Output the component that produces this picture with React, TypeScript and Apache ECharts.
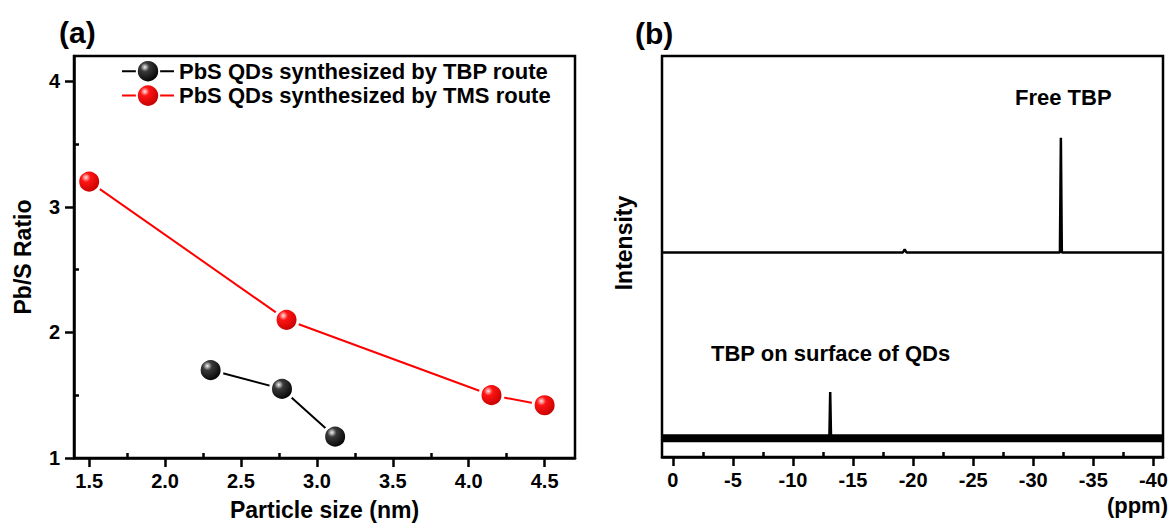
import React, { useEffect, useRef } from "react";
import * as echarts from "echarts";

// ---------- Panel (a) data ----------
const tbpRouteName = "PbS QDs synthesized by TBP route";
const tmsRouteName = "PbS QDs synthesized by TMS route";
const tbpSize = [2.3, 2.77, 3.12];
const tbpRatio = [1.7, 1.55, 1.17];
const tmsSize = [1.5, 2.8, 4.15, 4.5];
const tmsRatio = [3.2, 2.1, 1.5, 1.42];
const sizeTicks = [1.5, 2.0, 2.5, 3.0, 3.5, 4.0, 4.5];
const ratioTicks = [1, 2, 3, 4];

// ---------- Panel (b) data ----------
const ppmTicks = [0, -5, -10, -15, -20, -25, -30, -35, -40];
const freeTbpPpm = [0.9, -19.15, -19.3, -19.45, -32.22, -32.3, -32.38, -40.8];
const freeTbpIntensity = [51, 51, 51.8, 51, 51, 79.6, 51, 51];
const surfaceTbpPpm = [0.9, -13.03, -13.1, -13.17, -40.8];
const surfaceTbpIntensity = [4.7, 4.7, 16.2, 4.7, 4.7];
const noiseBandPpm = [0.9, -40.8];
const noiseBandIntensity = [4.7, 4.7];

const FONT = "Liberation Sans, Arial, Helvetica, sans-serif";
const AX = 2.5;

function sphere(hi: string, mid: string, dark: string) {
  return new echarts.graphic.RadialGradient(0.36, 0.32, 0.7, [
    { offset: 0, color: hi },
    { offset: 0.28, color: mid },
    { offset: 1, color: dark },
  ]);
}

function pairs(xs: number[], ys: number[]) {
  return xs.map((x, i) => [x, ys[i]]);
}

function buildOption() {
  const labelStyle = {
    color: "#000",
    fontFamily: FONT,
    fontWeight: "bold" as const,
    fontSize: 20,
  };
  const nameStyle = {
    color: "#000",
    fontFamily: FONT,
    fontWeight: "bold" as const,
    fontSize: 23,
  };
  const minorOverlay = (extra: any) => ({
    type: "value",
    axisLine: { show: false },
    axisLabel: { show: false },
    axisTick: { show: false, inside: true },
    minorTick: { show: true, splitNumber: 2, length: 5, lineStyle: { color: "#000", width: AX } },
    splitLine: { show: false },
    minorSplitLine: { show: false },
    ...extra,
  });

  return {
    animation: false,
    backgroundColor: "#fff",
    grid: [
      { left: 74, top: 56, width: 501, height: 402, show: true, borderColor: "#000", borderWidth: AX, backgroundColor: "transparent", containLabel: false, outerBoundsMode: "none" },
      { left: 662, top: 56, width: 501, height: 401, show: true, borderColor: "#000", borderWidth: AX, backgroundColor: "transparent", containLabel: false, outerBoundsMode: "none" },
    ],
    legend: {
      data: [tbpRouteName, tmsRouteName],
      orient: "vertical",
      left: 121,
      top: 59,
      padding: 0,
      itemWidth: 52,
      itemHeight: 28,
      itemGap: 0,
      textStyle: { color: "#000", fontFamily: FONT, fontWeight: "bold", fontSize: 22 },
    },
    xAxis: [
      {
        type: "value",
        gridIndex: 0,
        min: 1.4,
        max: 4.7,
        minInterval: 0.5,
        maxInterval: 0.5,
        position: "bottom",
        name: "Particle size (nm)",
        nameLocation: "middle",
        nameGap: 40,
        nameTextStyle: nameStyle,
        axisLine: { lineStyle: { color: "#000", width: AX } },
        axisTick: { show: true, inside: false, length: 9, lineStyle: { color: "#000", width: AX }, customValues: sizeTicks },
        axisLabel: { ...labelStyle, margin: 13, customValues: sizeTicks, formatter: (v: number) => Number(v).toFixed(1) },
        splitLine: { show: false },
      },
      minorOverlay({ gridIndex: 0, min: 1.4, max: 4.7, minInterval: 0.5, maxInterval: 0.5, position: "bottom" }),
      {
        type: "value",
        gridIndex: 1,
        inverse: true,
        min: -40.8,
        max: 0.9,
        minInterval: 5,
        maxInterval: 5,
        position: "bottom",
        axisLine: { lineStyle: { color: "#000", width: AX } },
        axisTick: { show: true, inside: false, length: 9, lineStyle: { color: "#000", width: AX }, customValues: ppmTicks },
        axisLabel: { ...labelStyle, margin: 13, customValues: ppmTicks, formatter: (v: number) => String(Math.round(v)) },
        splitLine: { show: false },
      },
      minorOverlay({ gridIndex: 1, inverse: true, min: -40.8, max: 0.9, minInterval: 5, maxInterval: 5, position: "bottom" }),
    ],
    yAxis: [
      {
        type: "value",
        gridIndex: 0,
        min: 1,
        max: 4.2,
        minInterval: 1,
        maxInterval: 1,
        position: "left",
        name: "Pb/S Ratio",
        nameLocation: "middle",
        nameGap: 40,
        nameTextStyle: nameStyle,
        axisLine: { lineStyle: { color: "#000", width: AX } },
        axisTick: { show: true, inside: false, length: 9, lineStyle: { color: "#000", width: AX }, customValues: ratioTicks },
        axisLabel: { ...labelStyle, margin: 14, customValues: ratioTicks, formatter: (v: number) => String(Math.round(v)) },
        splitLine: { show: false },
      },
      minorOverlay({ gridIndex: 0, min: 1, max: 4.2, minInterval: 1, maxInterval: 1, position: "left" }),
      {
        type: "value",
        gridIndex: 1,
        min: 0,
        max: 100,
        show: false,
        splitLine: { show: false },
      },
    ],
    series: [
      {
        type: "line",
        name: tbpRouteName,
        xAxisIndex: 0,
        yAxisIndex: 0,
        data: pairs(tbpSize, tbpRatio),
        symbol: "circle",
        symbolSize: 23,
        lineStyle: { color: "#000", width: 2 },
        itemStyle: { color: sphere("#f4f4f4", "#3a3a3a", "#000"), borderColor: "#fff", borderWidth: 3 },
        z: 3,
      },
      {
        type: "line",
        name: tmsRouteName,
        xAxisIndex: 0,
        yAxisIndex: 0,
        data: pairs(tmsSize, tmsRatio),
        symbol: "circle",
        symbolSize: 23,
        lineStyle: { color: "#ff0000", width: 2 },
        itemStyle: { color: sphere("#ffe6e6", "#ff1414", "#c00000"), borderColor: "#fff", borderWidth: 3 },
        z: 3,
      },
      {
        type: "line",
        name: "noise band",
        xAxisIndex: 2,
        yAxisIndex: 2,
        data: pairs(noiseBandPpm, noiseBandIntensity),
        symbol: "none",
        lineStyle: { color: "#000", width: 8 },
        silent: true,
      },
      {
        type: "line",
        name: "TBP on surface of QDs",
        xAxisIndex: 2,
        yAxisIndex: 2,
        data: pairs(surfaceTbpPpm, surfaceTbpIntensity),
        symbol: "none",
        lineStyle: { color: "#000", width: 2.5 },
      },
      {
        type: "line",
        name: "Free TBP",
        xAxisIndex: 2,
        yAxisIndex: 2,
        data: pairs(freeTbpPpm, freeTbpIntensity),
        symbol: "none",
        lineStyle: { color: "#000", width: 2.5 },
      },
    ],
    graphic: [
      { type: "text", x: 59, y: 32, style: { text: "(a)", fill: "#000", font: `bold 30px ${FONT}`, align: "left", verticalAlign: "middle" } },
      { type: "text", x: 635, y: 33, style: { text: "(b)", fill: "#000", font: `bold 30px ${FONT}`, align: "left", verticalAlign: "middle" } },
      { type: "text", x: 1015, y: 97, style: { text: "Free TBP", fill: "#000", font: `bold 22px ${FONT}`, align: "left", verticalAlign: "middle" } },
      { type: "text", x: 711, y: 353, style: { text: "TBP on surface of QDs", fill: "#000", font: `bold 22px ${FONT}`, align: "left", verticalAlign: "middle" } },
      { type: "text", x: 1168, y: 505, style: { text: "(ppm)", fill: "#000", font: `bold 22px ${FONT}`, align: "right", verticalAlign: "middle" } },
      { type: "text", x: 624, y: 243, rotation: Math.PI / 2, style: { text: "Intensity", fill: "#000", font: `bold 23px ${FONT}`, align: "center", verticalAlign: "middle" } },
    ],
  };
}

export default function App() {
  const ref = useRef<HTMLDivElement>(null);
  useEffect(() => {
    if (!ref.current) return;
    const chart = echarts.init(ref.current, null, { renderer: "svg" });
    chart.setOption(buildOption() as any);
    return () => chart.dispose();
  }, []);
  return (
    <div
      ref={ref}
      style={{ position: "fixed", left: 0, top: 0, width: 1169, height: 523, background: "#fff" }}
    />
  );
}
